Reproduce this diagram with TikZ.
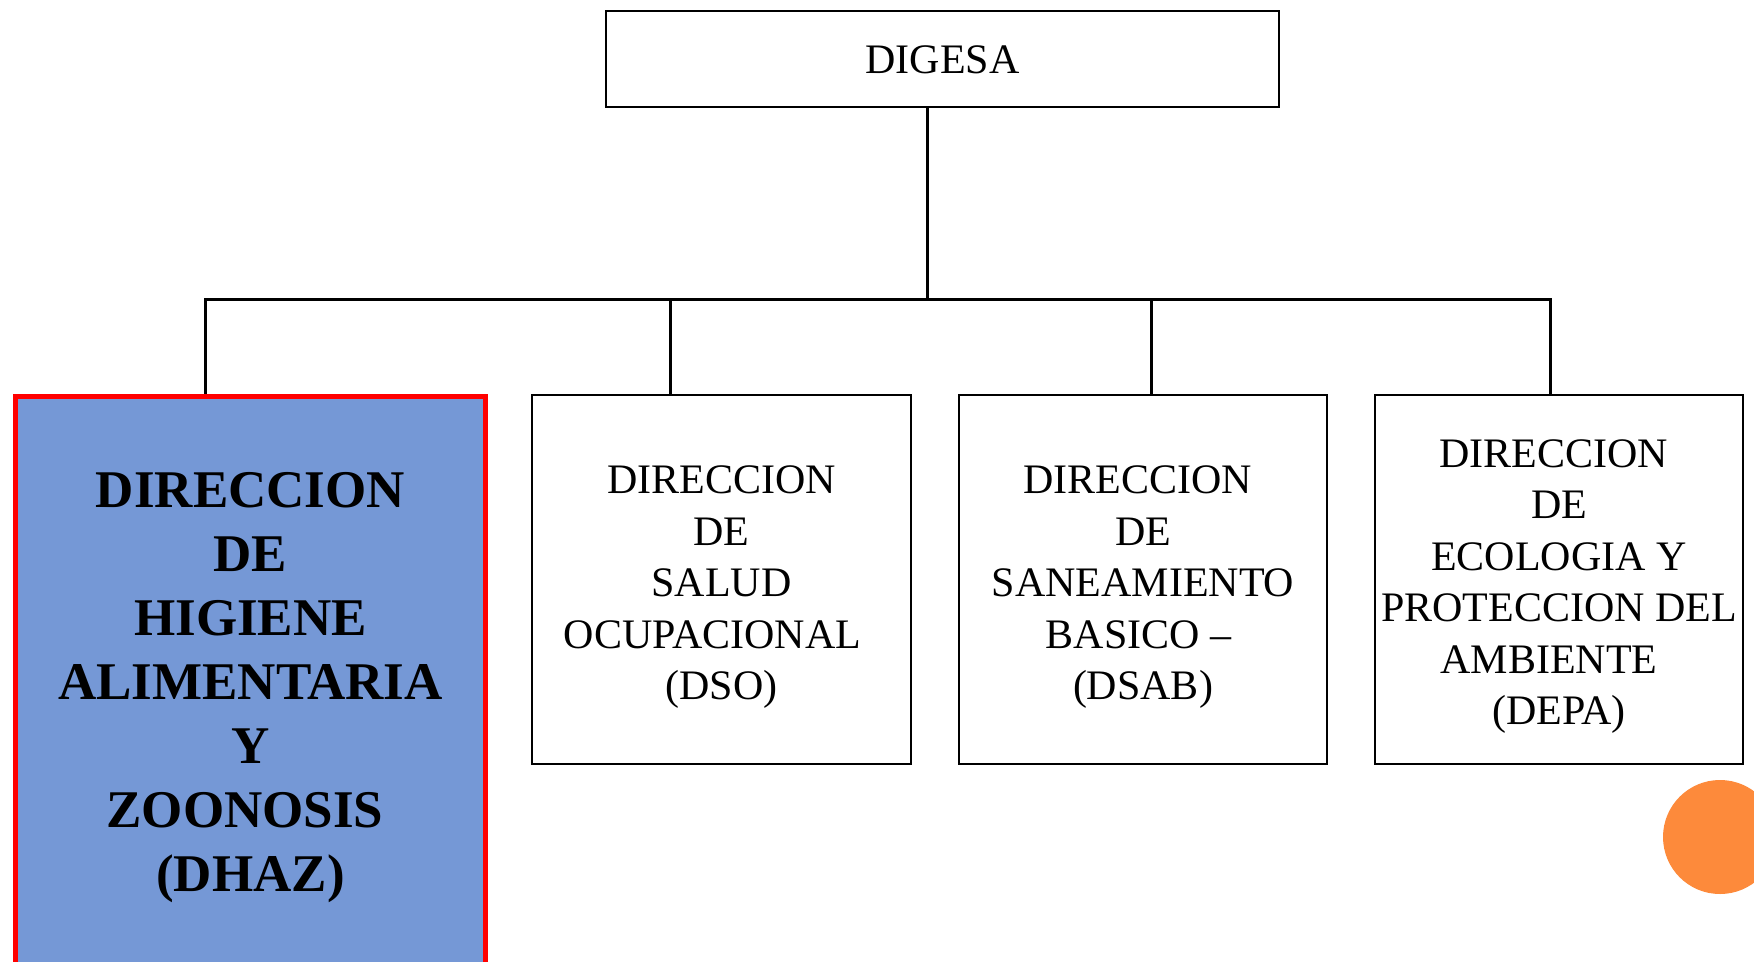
\documentclass[tikz,border=0pt]{standalone}
\usepackage{fontspec}
\setmainfont{Liberation Serif}
\definecolor{boxblue}{RGB}{117,152,214}
\definecolor{dotorange}{RGB}{253,138,59}
\newcommand\dropText[2]{\raisebox{-#1}[\height][\depth]{\begin{tabular}{@{}c@{}}#2\end{tabular}}}
\newcommand\trail[1]{\rule{#1}{0pt}}
\begin{document}
\begin{tikzpicture}[x=1bp,y=-1bp,
  unit/.style={draw=black, line width=2bp, inner sep=0pt, align=center,
    font=\fontsize{42bp}{51.5bp}\selectfont},
  mainunit/.style={draw=red, line width=5bp, fill=boxblue, inner sep=0pt, align=center,
    font=\fontsize{53bp}{64bp}\selectfont\bfseries},
  link/.style={line width=3bp, black}]
\useasboundingbox (0,0) rectangle (1754,961);
\clip (0,0) rectangle (1754,961);
\fill[white] (0,0) rectangle (1754,961);

\node[unit, minimum width=673bp, minimum height=96bp] (digesa) at (942.5,59) {\dropText{4bp}{DIGESA}};

\node[mainunit, minimum width=470bp, minimum height=574bp] (dhaz) at (250.5,683) {\dropText{4bp}{DIRECCION\\DE\\HIGIENE\\ALIMENTARIA\\Y\\ZOONOSIS\trail{11bp}\\(DHAZ)}};
\node[unit, minimum width=379bp, minimum height=369bp] (dso) at (721.5,579.5) {\dropText{7bp}{DIRECCION\\DE\\SALUD\\OCUPACIONAL\trail{18bp}\\(DSO)}};
\node[unit, minimum width=368bp, minimum height=369bp] (dsab) at (1143,579.5) {\dropText{7bp}{DIRECCION\trail{11bp}\\DE\\SANEAMIENTO\\BASICO --\trail{9bp}\\(DSAB)}};
\node[unit, minimum width=368bp, minimum height=369bp] (depa) at (1559,579.5) {\dropText{6bp}{DIRECCION\trail{11bp}\\DE\\ECOLOGIA Y\\PROTECCION DEL\\AMBIENTE\trail{20bp}\\(DEPA)}};

\coordinate (hub) at (927,299);
\coordinate (j1) at (205.8,299);
\coordinate (j2) at (670.5,299);
\coordinate (j3) at (1151,299);
\coordinate (j4) at (1550,299);

\draw[link] (digesa.south -| hub) -- (hub);
\draw[link, line cap=rect] (j1) -- (j4);
\draw[link] (j1) -- (j1 |- dhaz.north);
\draw[link] (j2) -- (j2 |- dso.north);
\draw[link] (j3) -- (j3 |- dsab.north);
\draw[link] (j4) -- (j4 |- depa.north);

\fill[dotorange] (1720,837) circle (57);
\end{tikzpicture}
\end{document}
